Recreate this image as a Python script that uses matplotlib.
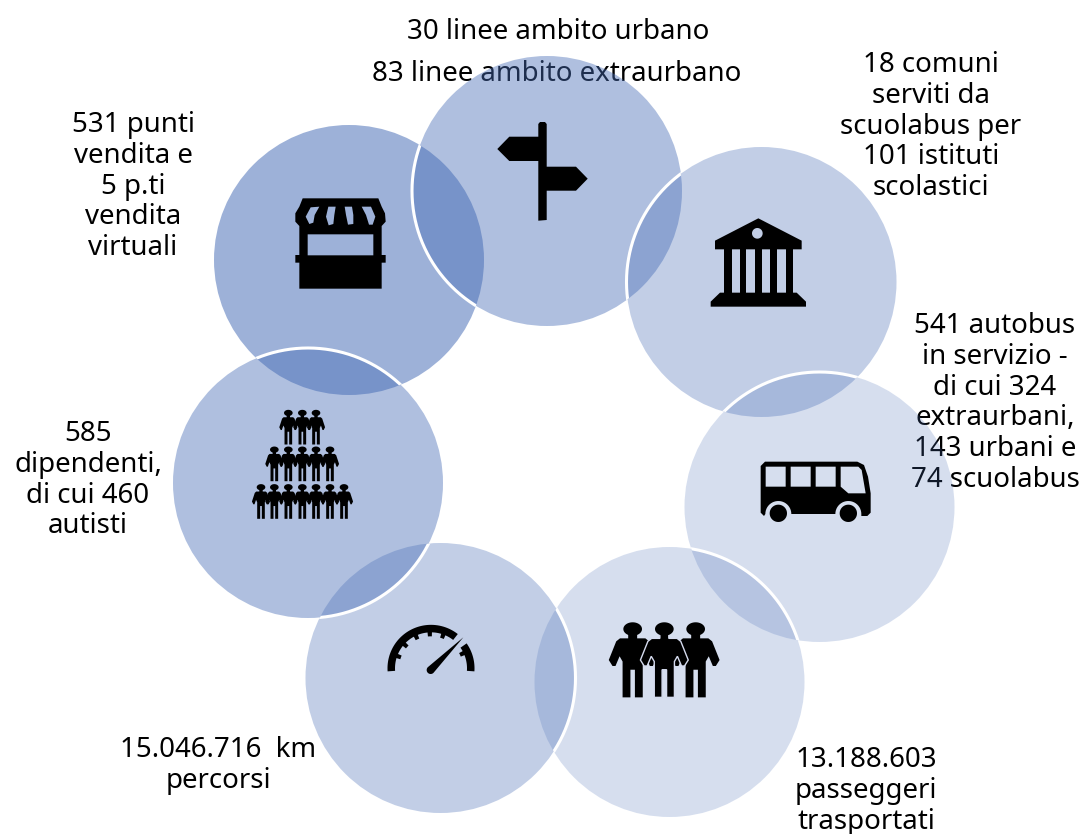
import numpy as np
import matplotlib
matplotlib.use("Agg")
import matplotlib.pyplot as plt
from matplotlib.patches import Circle, PathPatch
from matplotlib.path import Path

# ---- content ----
segment_names = ["punti vendita", "linee", "comuni", "autobus", "passeggeri", "km", "dipendenti"]
segment_x = [349, 547, 761.5, 819.5, 669.5, 440.5, 308]
segment_y = [260, 191, 282, 507, 682, 678, 483]
segment_alpha = [0.53, 0.43, 0.33, 0.22, 0.22, 0.33, 0.43]
white_edge_over = [[], [0], [1], [2], [3], [4], [0, 5]]

label_lines = [
    ["30 linee ambito urbano"],
    ["83 linee ambito extraurbano"],
    ["18 comuni", "serviti da", "scuolabus per", "101 istituti", "scolastici"],
    ["541 autobus", "in servizio -", "di cui 324", "extraurbani,", "143 urbani e", "74 scuolabus"],
    ["13.188.603", "passeggeri", "trasportati"],
    ["15.046.716  km", "percorsi"],
    ["585", "dipendenti,", "di cui 460", "autisti"],
    ["531 punti", "vendita e", "5 p.ti", "vendita", "virtuali"],
]
label_x = [558, 557, 931, 995, 866, 218, 88, 133]
label_y = [32, 74, 65, 326, 760, 750, 434, 125]

R = 135
BASE = "#466CB6"
SIZE = 19.9
STEP = 30.8

fig = plt.figure(figsize=(10.81, 8.34), dpi=100)
ax = fig.add_axes([0, 0, 1, 1])
ax.set_xlim(0, 1081)
ax.set_ylim(834, 0)
ax.axis("off")

# labels lie beneath the translucent discs
for lines, x, y in zip(label_lines, label_x, label_y):
    for i, t in enumerate(lines):
        ax.text(x, y + i * STEP, t, ha="center", va="center", fontsize=SIZE,
                family="Noto Sans", color="black", zorder=1)

for x, y, a in zip(segment_x, segment_y, segment_alpha):
    ax.add_patch(Circle((x, y), R, facecolor=BASE, edgecolor="none", alpha=a, zorder=2))

th = np.linspace(0, 2 * np.pi, 721)
for i, below in enumerate(white_edge_over):
    for j in below:
        ln, = ax.plot(segment_x[i] + R * np.cos(th), segment_y[i] + R * np.sin(th),
                      color="white", lw=2.2, zorder=3)
        ln.set_clip_path(Circle((segment_x[j], segment_y[j]), R, transform=ax.transData))


# ---- icon helpers ----
def area(p):
    p = np.asarray(p)
    return 0.5 * np.sum(p[:, 0] * np.roll(p[:, 1], -1) - np.roll(p[:, 0], -1) * p[:, 1])


def icon(outer, holes=(), ec="none", lw=0):
    verts, codes = [], []
    for k, poly in enumerate([outer] + list(holes)):
        poly = np.asarray(poly, float)
        if (area(poly) > 0) != (k == 0):
            poly = poly[::-1]
        verts += list(poly) + [poly[0]]
        codes += [Path.MOVETO] + [Path.LINETO] * (len(poly) - 1) + [Path.CLOSEPOLY]
    ax.add_patch(PathPatch(Path(verts, codes), facecolor="black", edgecolor=ec, lw=lw, zorder=4))


def ellipse(cx, cy, rx, ry=None, a0=0, a1=360, n=48):
    ry = rx if ry is None else ry
    t = np.radians(np.linspace(a0, a1, n))
    return np.c_[cx + rx * np.cos(t), cy + ry * np.sin(t)]


def zoomed(pts, ox, oy):
    return np.asarray(pts, float) / 3 + [ox, oy]


# signpost
icon([(538.3, 124), (540, 122), (545, 122), (546.7, 124), (546.7, 220), (538.3, 220.7)])
icon([(539, 136.7), (509.3, 136.7), (497.3, 149), (509.3, 161), (539, 161)])
icon([(546, 166.7), (576, 166.7), (587.7, 178.7), (576, 190.7), (546, 190.7)])

# market stall
S = lambda p: zoomed(p, 270, 100)
icon(S([(98, 295), (325, 295), (335, 320), (345, 340), (347, 365), (335, 378), (335, 465), (347, 465),
        (347, 488), (335, 488), (335, 566), (88, 566), (88, 488), (76, 488), (76, 465), (88, 465),
        (88, 378), (76, 365), (76, 340), (88, 320)]),
     [S([(113, 403), (310, 403), (310, 466), (113, 466)]),
      S([(122, 322), (148, 320), (134, 345), (130, 368), (118, 372), (107, 350)]),
      S([(175, 320), (197, 320), (193, 345), (190, 372), (176, 376), (168, 350)]),
      S([(224, 320), (246, 320), (250, 345), (250, 372), (234, 374), (228, 345)]),
      S([(275, 320), (303, 320), (316, 350), (308, 374), (297, 374), (288, 345)])])

# institute
B = lambda p: zoomed(p, 690, 200)
icon(B([(205, 55), (335, 122), (335, 148), (75, 148), (75, 122)]), [B(ellipse(202, 100, 16))])
for x0, x1 in [(103, 125), (150, 168), (195, 215), (240, 260), (288, 310)]:
    icon(B([(x0, 147), (x1, 147), (x1, 280), (x0, 280)]))
icon(B([(90, 278), (320, 278), (348, 305), (348, 320), (62, 320), (62, 305)]))

# bus
U = lambda p: zoomed(p, 740, 440)
arch2 = ellipse(325, 222, 39, a0=0, a1=-180, n=24)
arch1 = ellipse(115, 222, 39, a0=0, a1=-180, n=24)
body = [(75, 65), (352, 65), (372, 75), (384, 110), (392, 160), (392, 218), (382, 228), (364, 228)] + \
       list(map(tuple, arch2)) + list(map(tuple, arch1)) + [(72, 228), (62, 218), (62, 78)]
icon(U(body), [U([(77, 80), (137, 80), (137, 140), (77, 140)]),
               U([(152, 80), (212, 80), (212, 140), (152, 140)]),
               U([(227, 80), (287, 80), (287, 140), (227, 140)]),
               U([(302, 80), (355, 80), (365, 90), (377, 160), (325, 160), (302, 140)])])
icon(U(ellipse(115, 220, 26)))
icon(U(ellipse(325, 220, 26)))

# people
PERSON = np.array([(-.06, .14), (.06, .14), (.06, .21), (.17, .21), (.22, .25), (.32, .50), (.27, .58),
                   (.23, .58), (.175, .45), (.135, .52), (.135, 1.0), (.03, 1.0), (.03, .63), (-.03, .63),
                   (-.03, 1.0), (-.135, 1.0), (-.135, .52), (-.175, .45), (-.23, .58), (-.27, .58),
                   (-.32, .50), (-.22, .25), (-.17, .21), (-.06, .21)])


def person(cx, top, h, wide=1.0, ec="none", lw=0):
    icon(PERSON * [h * wide, h] + [cx, top], ec=ec, lw=lw)
    icon(ellipse(cx, top + .085 * h, .125 * h, .09 * h))


PX = lambda x: 375 + x / 3
PY = lambda y: 610 + y / 3
person(PX(773), PY(38), 74.7)
person(PX(962), PY(38), 74.7)
person(PX(868), PY(38), 74.7, ec="#D5DBEE", lw=1)

# crowd
for top, xs in [(410, [145, 187, 228]),
                (446.7, [103, 145, 187, 228, 270]),
                (484.3, [63, 103, 145, 187, 228, 270, 312])]:
    for x in xs:
        person(240 + x / 3, top, 34.5, wide=0.82)

# speedometer
cx, cy = PX(168), PY(175)
Ro, Ri = 43.5, 36


def ring(a0, a1, ro=Ro, ri=Ri):
    a = np.radians(np.linspace(a0, a1, 50))
    out = np.c_[cx + ro * np.cos(a), cy - ro * np.sin(a)]
    inn = np.c_[cx + ri * np.cos(a), cy - ri * np.sin(a)][::-1]
    icon(np.r_[out, inn])


ring(184, 52)
ring(35, -4)
for ang in [160, 138, 115, 92, 70, 25]:
    ring(ang + 3.5, ang - 3.5, ro=Ri + 1, ri=Ri - 4)
icon(np.r_[[(PX(265), PY(82))], zoomed(ellipse(167, 180, 12, a0=45, a1=225, n=20), 375, 610)])

fig.savefig("out.png", dpi=100, facecolor="white")
